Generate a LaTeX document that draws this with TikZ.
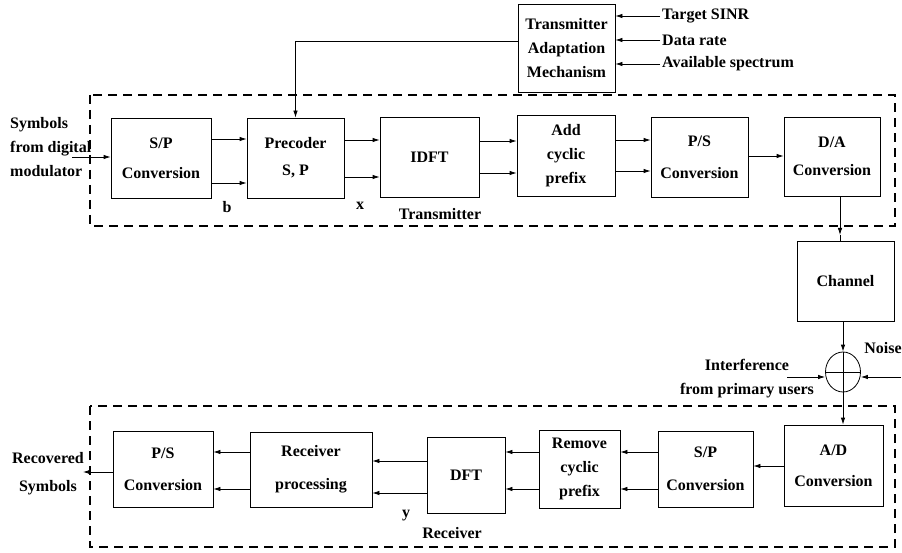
\documentclass[tikz,border=0pt]{standalone}
\usepackage{fontspec}
\setmainfont{Liberation Serif}
\usetikzlibrary{arrows.meta,shapes.geometric}
\begin{document}
\begin{tikzpicture}[x=1pt,y=-1pt,
  lbl/.style={font=\bfseries\fontsize{16}{24}\selectfont, inner sep=2pt},
  box/.style={lbl, draw, line width=0.8pt, inner sep=0pt, align=center},
  group/.style={draw, line width=1.6pt, dash pattern=on 9pt off 6pt},
  arr/.style={-{Latex[length=7pt,width=4.5pt]}, line width=0.8pt},
  wire/.style={line width=0.8pt}]
\useasboundingbox (0,0) rectangle (902,553);

% dashed frames around transmitter and receiver
\draw[group] (90,95) rectangle (895,226);
\draw[group] (90,406) rectangle (895,547);

% adaptation block and its inputs
\node[box, minimum width=97pt, minimum height=88pt] (tam) at (566.5,48) {Transmitter\\Adaptation\\Mechanism};
\node[lbl, anchor=west] (sinr) at (660,16) {Target SINR};
\node[lbl, anchor=west] (rate) at (660,40) {Data rate};
\node[lbl, anchor=west] (spec) at (660,64) {Available spectrum};
\draw[arr] (sinr.west) -- (tam.east |- sinr.west);
\draw[arr] (rate.west) -- (tam.east |- rate.west);
\draw[arr] (spec.west) -- (tam.east |- spec.west);

% transmitter chain
\node[box, minimum width=100pt, minimum height=80pt] (sp1) at (161,158) {S/P\\[6pt]Conversion};
\node[box, minimum width=97pt, minimum height=80pt] (pre) at (295.5,158) {Precoder\\[3pt]S, P};
\node[box, minimum width=99pt, minimum height=80pt] (idft) at (429.5,157) {IDFT};
\node[box, minimum width=98pt, minimum height=81pt] (acp) at (566,155.5) {Add\\cyclic\\prefix};
\node[box, minimum width=97pt, minimum height=80pt] (ps1) at (699.5,157) {P/S\\[8pt]Conversion};
\node[box, minimum width=96pt, minimum height=79pt] (da) at (832,156.5) {D/A\\[4pt]Conversion};

\node[lbl, align=left, anchor=west] (src) at (8,147) {Symbols\\from digital\\modulator};
\coordinate (srcend) at (72,157);
\draw[arr] (srcend) -- (sp1.west |- srcend);

\draw[arr] (tam.west |- 0,41) -| (pre.north);

\draw[arr] (sp1.east |- 0,139) -- (pre.west |- 0,139);
\draw[arr] (sp1.east |- 0,183) -- (pre.west |- 0,183);
\draw[arr] (pre.east |- 0,140) -- (idft.west |- 0,140);
\draw[arr] (pre.east |- 0,177) -- (idft.west |- 0,177);
\draw[arr] (idft.east |- 0,141) -- (acp.west |- 0,141);
\draw[arr] (idft.east |- 0,173) -- (acp.west |- 0,173);
\draw[arr] (acp.east |- 0,140) -- (ps1.west |- 0,140);
\draw[arr] (acp.east |- 0,171) -- (ps1.west |- 0,171);
\draw[arr] (ps1.east |- 0,156) -- (da.west |- 0,156);

\node[lbl] (lb) at (227,207) {b};
\node[lbl] (lx) at (360,206) {x};
\node[lbl] (ltx) at (440,214) {Transmitter};

% channel, noise and interference
\node[box, minimum width=97pt, minimum height=80pt] (chan) at (845.5,281) {Channel};
\node[draw, ellipse, line width=0.8pt, minimum width=35pt, minimum height=40pt, inner sep=0pt] (sum) at (843,372) {};
\draw[wire] (sum.north) -- (sum.south) (sum.west) -- (sum.east);

\coordinate (dtip) at (840,235);
\draw[arr] (da.south -| dtip) -- (dtip);
\draw[wire] (dtip) -- (chan.north -| dtip);
\draw[arr] (chan.south -| sum.north) -- (sum.north);

\node[lbl] (noise) at (883,348) {Noise};
\coordinate (nz) at (901,377);
\draw[arr] (nz) -- (nz -| sum.east);
\node[lbl, align=center] (intf) at (747,379) {Interference\\from primary users};
\coordinate (ifc) at (787,377);
\draw[arr] (ifc) -- (ifc -| sum.west);

% receiver chain
\node[box, minimum width=99pt, minimum height=81pt] (ad) at (833.5,465.5) {A/D\\[7pt]Conversion};
\node[box, minimum width=95pt, minimum height=76pt] (sp2) at (705.5,469) {S/P\\[9pt]Conversion};
\node[box, minimum width=81pt, minimum height=78pt] (rcp) at (579.5,469) {Remove\\cyclic\\prefix};
\node[box, minimum width=78pt, minimum height=76pt] (dft) at (466,475) {DFT};
\node[box, minimum width=122pt, minimum height=75pt] (rp) at (311,469.5) {Receiver\\[9pt]processing};
\node[box, minimum width=100pt, minimum height=76pt] (ps2) at (163,469) {P/S\\[8pt]Conversion};

\draw[arr] (sum.south) -- (ad.north -| sum.south);
\draw[arr] (ad.west |- 0,466) -- (sp2.east |- 0,466);
\draw[arr] (sp2.west |- 0,452) -- (rcp.east |- 0,452);
\draw[arr] (sp2.west |- 0,489) -- (rcp.east |- 0,489);
\draw[arr] (rcp.west |- 0,452) -- (dft.east |- 0,452);
\draw[arr] (rcp.west |- 0,489) -- (dft.east |- 0,489);
\draw[arr] (dft.west |- 0,461) -- (rp.east |- 0,461);
\draw[arr] (dft.west |- 0,493) -- (rp.east |- 0,493);
\draw[arr] (rp.west |- 0,452) -- (ps2.east |- 0,452);
\draw[arr] (rp.west |- 0,489) -- (ps2.east |- 0,489);

\node[lbl, align=center] (dst) at (48,474) {Recovered\\[4pt]Symbols};
\coordinate (outend) at (83,472);
\draw[arr] (ps2.west |- outend) -- (outend);

\node[lbl] (ly) at (406,516) {y};
\node[lbl] (lrx) at (452,533) {Receiver};
\end{tikzpicture}
\end{document}
